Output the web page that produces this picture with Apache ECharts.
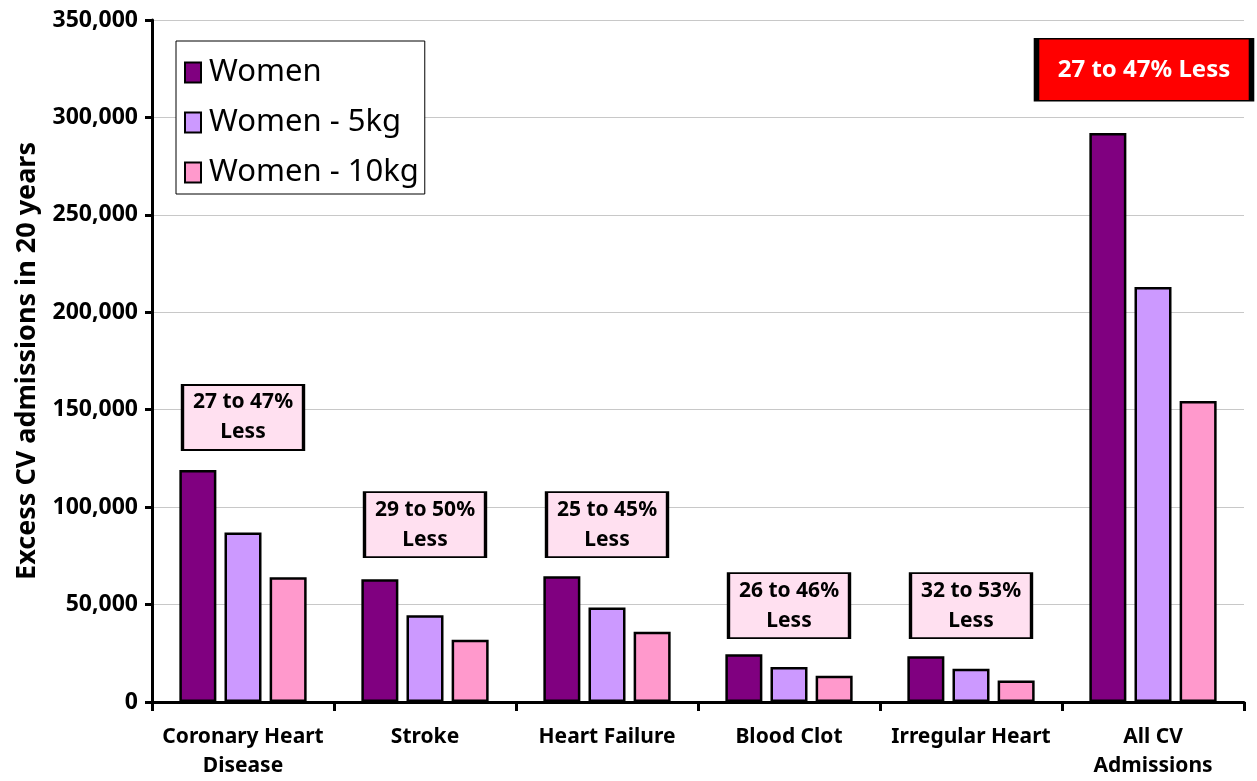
<!DOCTYPE html>
<html>
<head>
<meta charset="utf-8">
<script src="https://cdn.jsdelivr.net/npm/echarts@6/dist/echarts.min.js"></script>
<style>
  html, body { margin: 0; padding: 0; background: #fff; }
  #main { width: 1257px; height: 781px; }
</style>
</head>
<body>
<div id="main"></div>
<script>
var categories = ['Coronary Heart\nDisease', 'Stroke', 'Heart Failure', 'Blood Clot', 'Irregular Heart', 'All CV\nAdmissions'];
var women = [119000, 63000, 64500, 24500, 23500, 292000];
var women5kg = [87000, 44500, 48500, 18000, 17000, 213000];
var women10kg = [64000, 32000, 36000, 13500, 11000, 154500];
var noteText = ['27 to 47%\nLess', '29 to 50%\nLess', '25 to 45%\nLess', '26 to 46%\nLess', '32 to 53%\nLess', '27 to 47% Less'];
var noteValue = [146000, 91000, 91000, 49500, 49500, 324500];

var font = 'Noto Sans';
var charts = echarts.init(document.getElementById('main'));

function barSeries(name, data, color) {
    return {
        name: name,
        type: 'bar',
        data: data,
        barWidth: 37,
        barGap: '22%',
        itemStyle: { color: color, borderColor: '#000', borderWidth: 2.5 }
    };
}

var notes = noteText.map(function (t, i) {
    var big = i === 5;
    return {
        coord: [i, noteValue[i]],
        symbol: 'rect',
        symbolSize: big ? [215, 62] : [121, 65],
        symbolOffset: big ? [-9, 0] : [0, 0],
        itemStyle: {
            color: big ? '#FF0000' : '#FFE0F0',
            borderColor: '#000',
            borderWidth: big ? 3 : 2.5
        },
        label: {
            show: true,
            position: 'inside',
            formatter: t,
            color: big ? '#fff' : '#000',
            fontFamily: font,
            fontWeight: 'bold',
            fontSize: big ? 24 : 21,
            lineHeight: 30
        }
    };
});

var option = {
    animation: false,
    backgroundColor: '#fff',
    grid: { left: 152, right: 13, top: 20, bottom: 79, outerBoundsMode: 'none', containLabel: false },
    legend: {
        data: ['Women', 'Women - 5kg', 'Women - 10kg'],
        orient: 'vertical',
        left: 176,
        top: 41,
        padding: [16, 6, 6, 8],
        itemGap: 19,
        itemWidth: 16,
        itemHeight: 20,
        icon: 'rect',
        borderColor: '#000',
        borderWidth: 1,
        backgroundColor: '#fff',
        textStyle: { fontFamily: font, fontSize: 31, color: '#000', padding: [0, 0, 0, 3] }
    },
    xAxis: {
        type: 'category',
        data: categories,
        axisLine: { lineStyle: { color: '#000', width: 3 } },
        axisTick: { show: true, length: 9, lineStyle: { color: '#000', width: 3 } },
        axisLabel: {
            interval: 0,
            color: '#000',
            fontFamily: font,
            fontWeight: 'bold',
            fontSize: 21,
            lineHeight: 29,
            margin: 21
        }
    },
    yAxis: {
        type: 'value',
        min: 0,
        max: 350000,
        interval: 50000,
        name: 'Excess CV admissions in 20 years',
        nameLocation: 'middle',
        nameRotate: 90,
        nameGap: 111,
        nameTextStyle: { color: '#000', fontFamily: font, fontWeight: 'bold', fontSize: 27 },
        axisLine: { show: true, lineStyle: { color: '#000', width: 3 } },
        axisTick: { show: true, length: 7, lineStyle: { color: '#000', width: 3 } },
        axisLabel: {
            color: '#000',
            fontFamily: font,
            fontWeight: 'bold',
            fontSize: 23,
            margin: 14,
            formatter: function (v) { return v.toLocaleString('en-US'); }
        },
        splitLine: { lineStyle: { color: '#C8C8C8', width: 1 } }
    },
    series: [
        barSeries('Women', women, '#800080'),
        barSeries('Women - 5kg', women5kg, '#CC99FF'),
        barSeries('Women - 10kg', women10kg, '#FF99CC'),
        {
            name: 'notes',
            type: 'scatter',
            data: [],
            markPoint: { data: notes }
        }
    ]
};
charts.setOption(option);
</script>
</body>
</html>
